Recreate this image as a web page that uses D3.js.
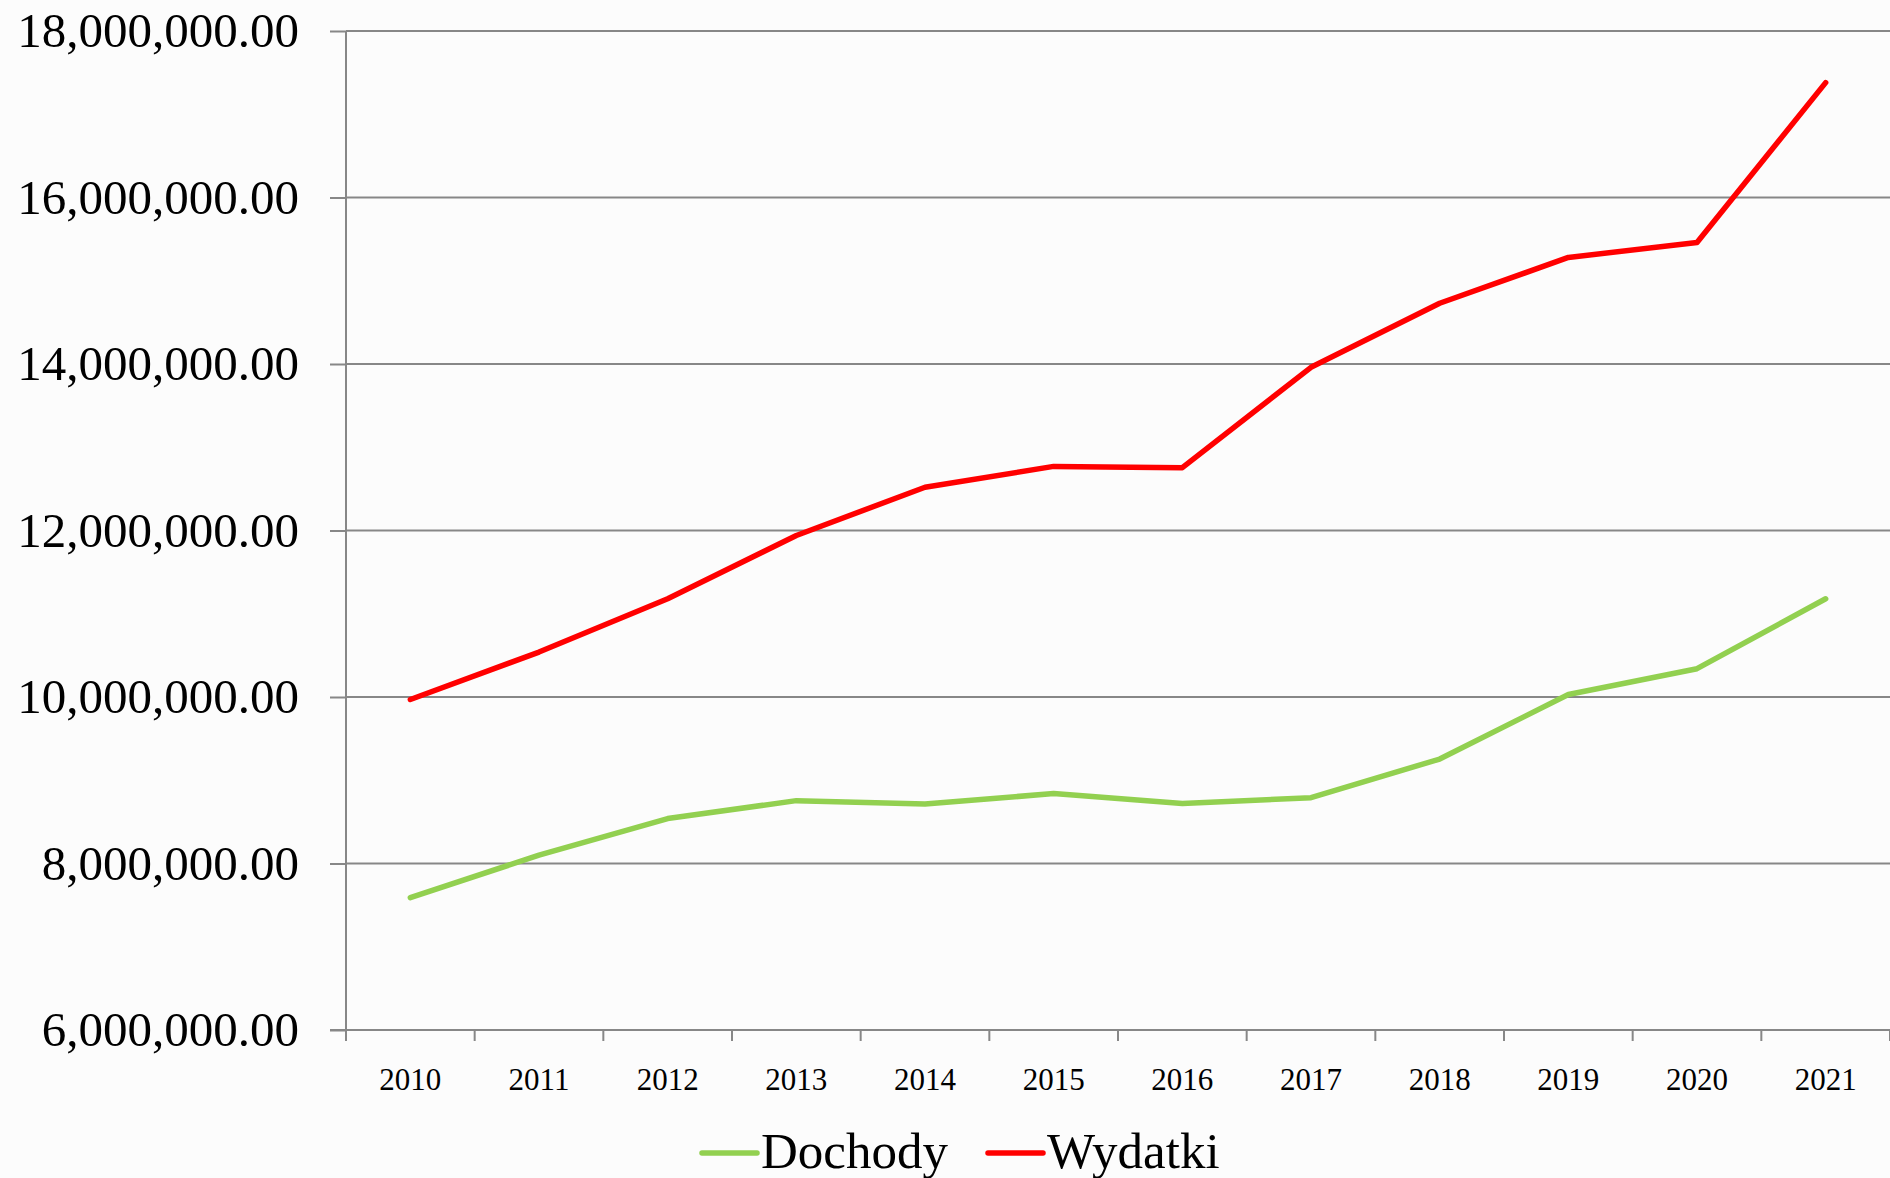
<!DOCTYPE html>
<html>
<head>
<meta charset="utf-8">
<script src="https://cdn.jsdelivr.net/npm/d3@7"></script>
<style>
  html, body { margin: 0; padding: 0; background: #fcfcfc; }
  svg { display: block; }
  text { font-family: "Liberation Serif", "DejaVu Serif", serif; fill: #000; }
</style>
</head>
<body>
<div class="container"></div>
<script>
const years = ['2010','2011','2012','2013','2014','2015','2016','2017','2018','2019','2020','2021'];
const dochody = [7590000, 8100000, 8540000, 8755000, 8715000, 8840000, 8720000, 8790000, 9255000, 10030000, 10340000, 11180000];
const wydatki = [9970000, 10540000, 11180000, 11940000, 12520000, 12770000, 12755000, 13960000, 14730000, 15280000, 15460000, 17380000];
const yTicks = [6000000, 8000000, 10000000, 12000000, 14000000, 16000000, 18000000];
const seriesNames = ['Dochody', 'Wydatki'];
const seriesColors = ['#92d050', '#ff0000'];

const width = 1890;
const height = 1178;
const plotLeft = 346;
const plotTop = 31;
const plotBottom = 1030;
const gridColor = '#878787';

const svg = d3.select('.container')
  .append('svg')
  .attr('width', width)
  .attr('height', height);

svg.append('rect')
  .attr('width', width)
  .attr('height', height)
  .attr('fill', '#fcfcfc');

const xScale = d3.scaleBand()
  .domain(years)
  .range([plotLeft, width]);

const yScale = d3.scaleLinear()
  .domain([6000000, 18000000])
  .range([plotBottom, plotTop]);

// gridlines
svg.append('g')
  .selectAll('line')
  .data(yTicks.slice(1))
  .enter()
  .append('line')
  .attr('x1', plotLeft)
  .attr('x2', width)
  .attr('y1', d => yScale(d))
  .attr('y2', d => yScale(d))
  .attr('stroke', gridColor)
  .attr('stroke-width', 2);

// y axis
const yAxis = d3.axisLeft(yScale)
  .tickValues(yTicks)
  .tickSize(16)
  .tickSizeOuter(0)
  .tickPadding(31)
  .tickFormat(d3.format(',.2f'));

const gy = svg.append('g')
  .attr('transform', `translate(${plotLeft}, 0)`)
  .call(yAxis);
gy.selectAll('path, line').attr('stroke', gridColor).attr('stroke-width', 2);
gy.selectAll('text')
  .attr('font-size', 49)
  .attr('font-family', '"Liberation Serif", serif')
  .attr('dy', '0.32em');
gy.select('.domain').attr('d', `M0,${plotTop}V${plotBottom}`);

// x axis (labels at band centres)
const xAxis = d3.axisBottom(xScale)
  .tickSize(0)
  .tickPadding(38);

const gx = svg.append('g')
  .attr('transform', `translate(0, ${plotBottom})`)
  .call(xAxis);
gx.select('.domain').attr('d', `M${plotLeft - 16},0H${width}`).attr('stroke', gridColor).attr('stroke-width', 2);
gx.selectAll('text')
  .attr('font-size', 31)
  .attr('font-family', '"Liberation Serif", serif');

// x tick marks at band boundaries
gx.selectAll('.bound')
  .data(years.map(d => xScale(d)).concat([xScale.range()[1]]))
  .enter()
  .append('line')
  .attr('class', 'bound')
  .attr('x1', d => d)
  .attr('x2', d => d)
  .attr('y1', 0)
  .attr('y2', 11)
  .attr('stroke', gridColor)
  .attr('stroke-width', 2);

// lines
const line = d3.line()
  .x((d, i) => xScale(years[i]) + xScale.bandwidth() / 2)
  .y(d => yScale(d));

[dochody, wydatki].forEach((vals, k) => {
  svg.append('path')
    .datum(vals)
    .attr('d', line)
    .attr('fill', 'none')
    .attr('stroke', seriesColors[k])
    .attr('stroke-width', 5.5)
    .attr('stroke-linejoin', 'round')
    .attr('stroke-linecap', 'round');
});

// legend
const legendX = [702, 988];
const legend = svg.append('g');
seriesNames.forEach((name, k) => {
  legend.append('line')
    .attr('x1', legendX[k])
    .attr('x2', legendX[k] + 55)
    .attr('y1', 1153)
    .attr('y2', 1153)
    .attr('stroke', seriesColors[k])
    .attr('stroke-width', 5.5)
    .attr('stroke-linecap', 'round');
  legend.append('text')
    .attr('x', legendX[k] + 59)
    .attr('y', 1168)
    .attr('font-size', 51)
    .text(name);
});
</script>
</body>
</html>
